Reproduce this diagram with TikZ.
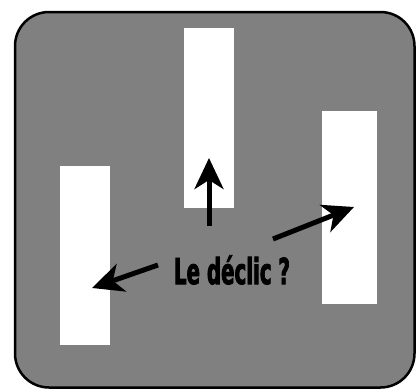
\documentclass[tikz,border=0pt]{standalone}
\usepackage{fontspec}
\newfontfamily\declicfont[FakeStretch=0.55, FakeBold=2]{DejaVu Sans Bold}
\usetikzlibrary{arrows.meta, positioning}

\begin{document}
\begin{tikzpicture}[x=1pt, y=-1pt,
    panel/.style={draw=black, line width=2.5pt, fill=gray, rounded corners=34pt},
    bar/.style={rectangle, fill=white, inner sep=0pt, minimum width=50pt},
    arrow/.style={-{Stealth[length=31pt, width=29pt, inset=9pt]}, line width=5pt}
]
    \useasboundingbox (0,0) rectangle (416,389);
    \draw[panel] (15,12) rectangle (414.5,387.5);
    % the three bars
    \node[bar, minimum height=179pt] (leftbar)  at (85,255.5) {};
    \node[bar, minimum height=180pt] (midbar)   at (209,118) {};
    \node[bar, minimum width=55pt, minimum height=193pt] (rightbar) at (349.5,207.5) {};
    % label
    \node[font=\declicfont\fontsize{36}{36}\selectfont, inner sep=0pt] (declic) at (232,270) {Le déclic ?};
    \coordinate (upstart) at (209,226);
    \coordinate (uptip) at (209,158);
    \coordinate (rstart) at (273,239);
    \coordinate (rtip) at (354,207);
    \coordinate (lstart) at (158,265);
    \coordinate (ltip) at (92,288);
    \draw[arrow] (upstart) -- (uptip);
    \draw[arrow] (rstart) -- (rtip);
    \draw[arrow] (lstart) -- (ltip);
\end{tikzpicture}
\end{document}
